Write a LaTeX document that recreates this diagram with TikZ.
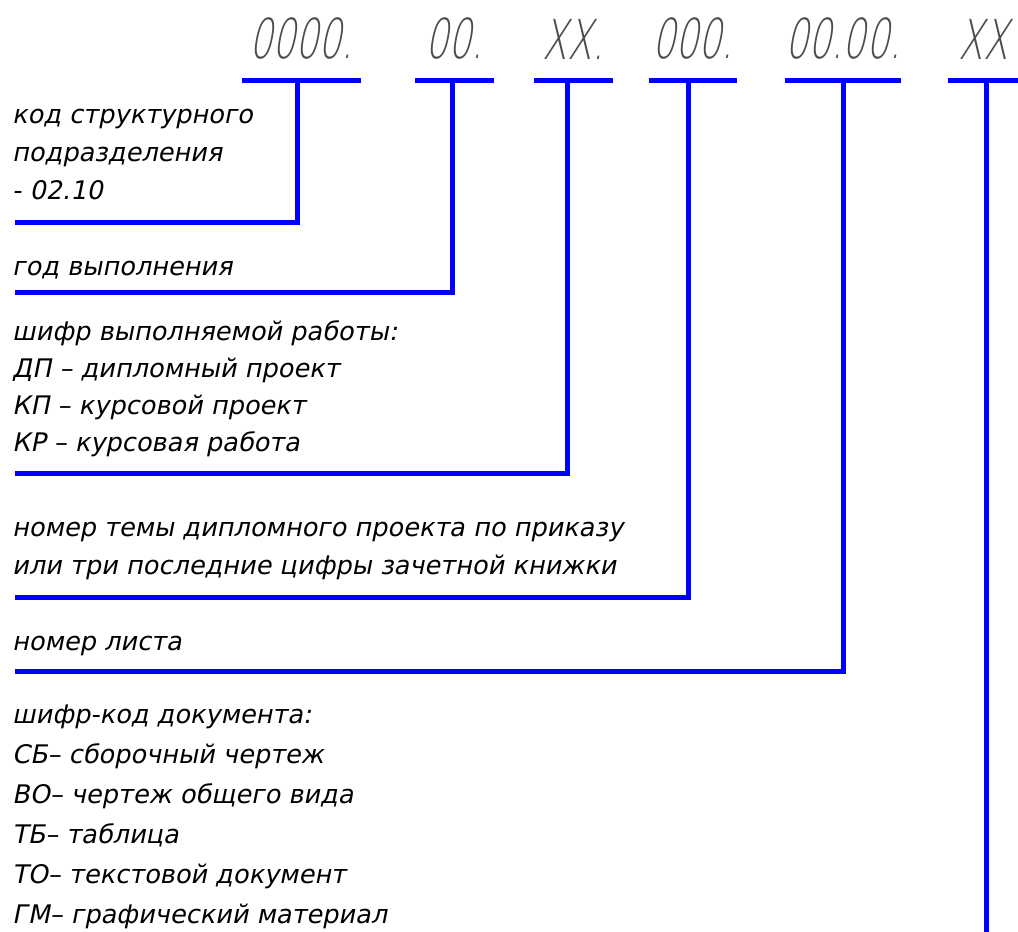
\documentclass[tikz,border=0pt]{standalone}
\usepackage{fontspec}
\setmainfont{DejaVu Sans}
\newfontfamily\gost[FakeSlant=0.2]{DejaVu Sans}
\newfontfamily\gostcode[FakeSlant=0.2,FakeStretch=0.66]{DejaVu Sans ExtraLight}
\tikzset{bl/.style={draw=blue,line width=5pt}}
\tikzset{code/.style={anchor=south,inner xsep=0pt,inner ysep=20pt,text=black!70,font=\gostcode\fontsize{55}{55}\selectfont}}
\tikzset{txt/.style={anchor=base west,align=left,inner sep=0pt,font=\gost\fontsize{25.6}{38}\selectfont}}

\begin{document}
\begin{tikzpicture}[x=1pt,y=-1pt]
                \useasboundingbox (0,0) rectangle (1018,932);
                % header
                \node[code,minimum width=119pt] (c1) at (301.5,80) {0000.};
                \node[code,minimum width=79pt] (c2) at (454.5,80) {00.};
                \node[code,minimum width=79pt] (c3) at (573.5,80) {XX.};
                \node[code,minimum width=88pt] (c4) at (693,80) {000.};
                \node[code,minimum width=116pt] (c5) at (843,80) {00.00.};
                \node[code,minimum width=70pt] (c6) at (983,80) {XX};
                \draw[bl] (c1.south west) -- (c1.south east);
                \draw[bl] (c2.south west) -- (c2.south east);
                \draw[bl] (c3.south west) -- (c3.south east);
                \draw[bl] (c4.south west) -- (c4.south east);
                \draw[bl] (c5.south west) -- (c5.south east);
                \draw[bl] (c6.south west) -- (c6.south east);
                % \SetUpLeaders
                \coordinate (d1) at (297,80);
                \coordinate (d2) at (452,80);
                \coordinate (d3) at (567,80);
                \coordinate (d4) at (688,80);
                \coordinate (d5) at (843,80);
                \coordinate (d6) at (986,80);
                \coordinate (e1) at (15,222);
                \coordinate (e2) at (15,292);
                \coordinate (e3) at (15,473);
                \coordinate (e4) at (15,597);
                \coordinate (e5) at (15,671);
                \coordinate (e6) at (986,940);
                \draw[bl] (d1) |- (e1);
                \draw[bl] (d2) |- (e2);
                \draw[bl] (d3) |- (e3);
                \draw[bl] (d4) |- (e4);
                \draw[bl] (d5) |- (e5);
                \draw[bl] (d6) -- (e6);
                % texts (base = last line)
                \node[txt] (t1) at (12,199) {код структурного\\подразделения\\- 02.10};
                \node[txt] (t2) at (12,275) {год выполнения};
                \node[txt,font=\gost\fontsize{25.6}{37}\selectfont] (t3) at (12,451) {шифр выполняемой работы:\\ДП – дипломный проект\\КП – курсовой проект\\КР – курсовая работа};
                \node[txt] (t4) at (12,574) {номер темы дипломного проекта по приказу\\или три последние цифры зачетной книжки};
                \node[txt] (t5) at (12,650) {номер листа};
                \node[txt,font=\gost\fontsize{25.6}{40}\selectfont] (t6) at (12,923) {шифр-код документа:\\СБ– сборочный чертеж\\ВО– чертеж общего вида\\ТБ– таблица\\ТО– текстовой документ\\ГМ– графический материал};
            \end{tikzpicture}
\end{document}
